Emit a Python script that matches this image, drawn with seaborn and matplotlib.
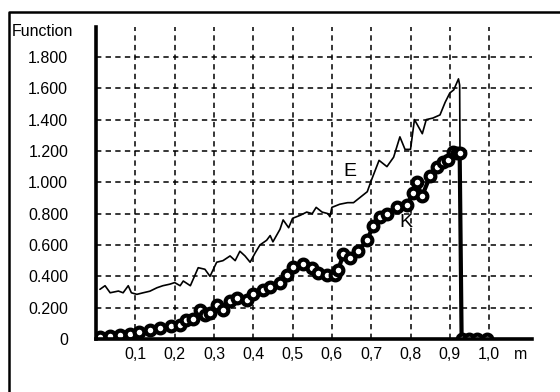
import numpy as np
import pandas as pd
import matplotlib
matplotlib.use("Agg")
import matplotlib.pyplot as plt
import seaborn as sns

# ----------------------------------------------------------------------
# Data
# ----------------------------------------------------------------------
E_x = [0.01, 0.023, 0.036, 0.057, 0.069, 0.082, 0.09, 0.104, 0.12, 0.137,
       0.155, 0.17, 0.188, 0.2, 0.214, 0.222, 0.24, 0.26, 0.277, 0.29,
       0.307, 0.323, 0.341, 0.354, 0.366, 0.379, 0.392, 0.405, 0.417, 0.434,
       0.443, 0.45, 0.468, 0.476, 0.49, 0.50, 0.52, 0.536, 0.55, 0.56,
       0.575, 0.59, 0.595, 0.60, 0.62, 0.64, 0.655, 0.67, 0.69, 0.70,
       0.72, 0.74, 0.757, 0.773, 0.786, 0.80, 0.81, 0.83, 0.84, 0.857,
       0.875, 0.888, 0.90, 0.91, 0.922, 0.925, 0.928]
E_y = [0.317, 0.34, 0.295, 0.306, 0.295, 0.34, 0.295, 0.285, 0.295, 0.305,
       0.327, 0.34, 0.35, 0.36, 0.34, 0.37, 0.34, 0.455, 0.445, 0.40,
       0.49, 0.50, 0.53, 0.50, 0.56, 0.53, 0.49, 0.55, 0.60, 0.63,
       0.66, 0.62, 0.70, 0.76, 0.71, 0.77, 0.79, 0.81, 0.80, 0.84,
       0.81, 0.80, 0.78, 0.84, 0.86, 0.87, 0.87, 0.90, 0.94, 1.01,
       1.14, 1.10, 1.16, 1.29, 1.21, 1.21, 1.40, 1.31, 1.40, 1.41,
       1.43, 1.51, 1.57, 1.59, 1.66, 1.62, 0.0]

K_x = [0.01, 0.036, 0.06, 0.087, 0.11, 0.137, 0.163, 0.19, 0.214, 0.23,
       0.247, 0.265, 0.277, 0.29, 0.307, 0.323, 0.34, 0.358, 0.383, 0.40,
       0.425, 0.443, 0.468, 0.485, 0.50, 0.527, 0.549, 0.565, 0.587, 0.608,
       0.616, 0.629, 0.646, 0.667, 0.689, 0.705, 0.723, 0.74, 0.765, 0.79,
       0.807, 0.816, 0.829, 0.85, 0.867, 0.883, 0.896, 0.908, 0.918, 0.925,
       0.93, 0.95, 0.97, 0.995]
K_y = [0.015, 0.02, 0.025, 0.03, 0.047, 0.057, 0.07, 0.08, 0.09, 0.12,
       0.13, 0.185, 0.155, 0.165, 0.217, 0.185, 0.24, 0.26, 0.25, 0.29,
       0.31, 0.33, 0.36, 0.41, 0.46, 0.48, 0.45, 0.42, 0.41, 0.41,
       0.44, 0.54, 0.52, 0.56, 0.63, 0.72, 0.78, 0.80, 0.845, 0.855,
       0.93, 1.00, 0.91, 1.04, 1.10, 1.13, 1.14, 1.195, 1.19, 1.19,
       0.0, 0.0, 0.0, 0.0]

x_ticks = [0.1, 0.2, 0.3, 0.4, 0.5, 0.6, 0.7, 0.8, 0.9, 1.0]
x_labels = ["0,1", "0,2", "0,3", "0,4", "0,5", "0,6", "0,7", "0,8", "0,9", "1,0"]
y_ticks = [0, 0.2, 0.4, 0.6, 0.8, 1.0, 1.2, 1.4, 1.6, 1.8]
y_labels = ["0", "0.200", "0.400", "0.600", "0.800", "1.000", "1.200",
            "1.400", "1.600", "1.800"]

sns.set_theme(style="white")
plt.rcParams["font.family"] = ["Liberation Sans", "DejaVu Sans"]
plt.rcParams["text.color"] = "black"

e_df = pd.DataFrame({"x": E_x, "y": E_y})
k_df = pd.DataFrame({"x": K_x, "y": K_y})

fig = plt.figure(figsize=(5.6, 3.92), dpi=100)
fig.patch.set_facecolor("white")
ax = fig.add_axes([96 / 560, 53 / 392, 436 / 560, 312 / 392])
ax.set_facecolor("white")

sns.lineplot(data=e_df, x="x", y="y", estimator=None, sort=False,
             color="black", linewidth=1.2, ax=ax)
sns.lineplot(data=k_df, x="x", y="y", estimator=None, sort=False,
             color="black", linewidth=3.0, marker="o", markersize=7,
             markerfacecolor="white", markeredgecolor="black",
             markeredgewidth=3.0, ax=ax)

ax.set_xlim(0, 1.109)
ax.set_ylim(0, 1.991)
ax.set_xticks(x_ticks)
ax.set_xticklabels(x_labels)
ax.set_yticks(y_ticks)
ax.set_yticklabels(y_labels)
ax.set_xlabel("")
ax.set_ylabel("")
ax.tick_params(axis="both", length=0, labelsize=11.5, colors="black")
ax.tick_params(axis="x", pad=6)
ax.tick_params(axis="y", pad=20)

ax.grid(True, color="black", linestyle=(0, (3.5, 2.8)), linewidth=1.1)
for side in ["top", "right"]:
    ax.spines[side].set_visible(False)
for side in ["left", "bottom"]:
    ax.spines[side].set_color("black")
    ax.spines[side].set_linewidth(2.6)

ax.text(0.646, 1.066, "E", fontsize=14, ha="center", va="center", color="black")
ax.text(0.789, 0.742, "K", fontsize=14, ha="center", va="center", color="black")
ax.text(1.079, -0.051, "m", fontsize=11.5, ha="center", va="center",
        color="black", transform=ax.get_xaxis_transform())

fig.text(12 / 560, 1 - 32 / 392, "Function", fontsize=11.5,
         ha="left", va="center", color="black")

# outer frame (top and left edges)
fig.add_artist(plt.Line2D([9 / 560, 9 / 560, 1.0], [0.0, 1 - 11.5 / 392, 1 - 11.5 / 392],
                          transform=fig.transFigure, color="black", linewidth=1.8))

fig.savefig("out.png", dpi=100, facecolor="white")
